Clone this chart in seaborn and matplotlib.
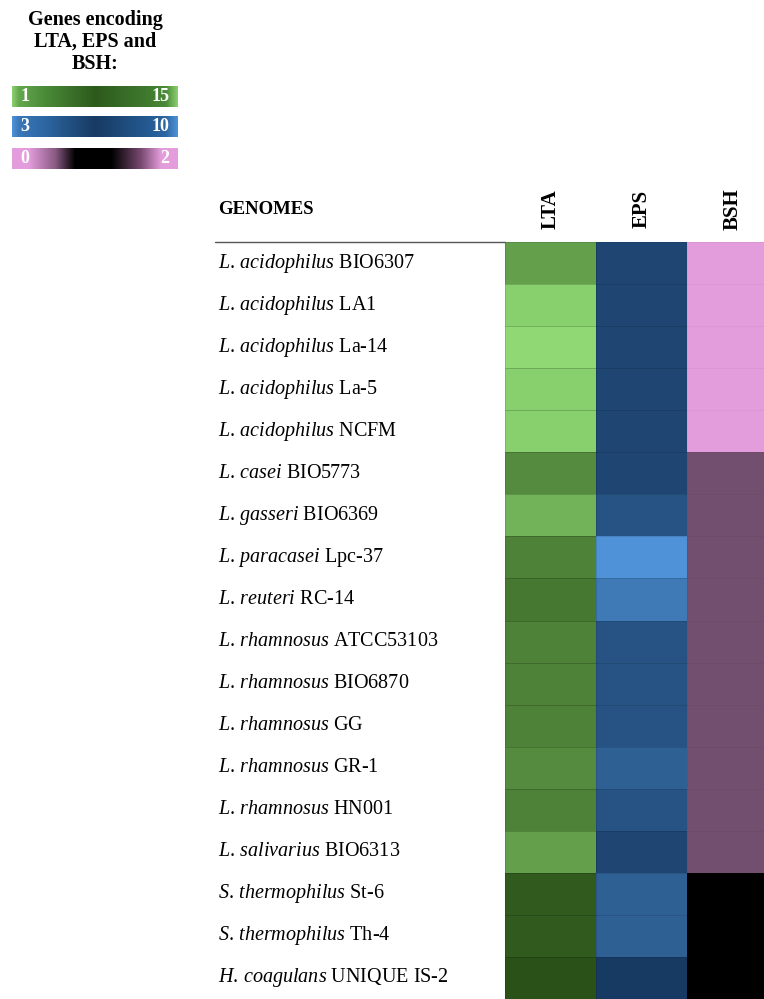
import numpy as np
import pandas as pd
import matplotlib
matplotlib.use("Agg")
import matplotlib.pyplot as plt
from matplotlib.colors import LinearSegmentedColormap
from matplotlib.lines import Line2D
import seaborn as sns

# Genome list: species (italic) and strain
species = ["L. acidophilus"] * 5 + [
    "L. casei", "L. gasseri", "L. paracasei", "L. reuteri",
    "L. rhamnosus", "L. rhamnosus", "L. rhamnosus", "L. rhamnosus", "L. rhamnosus",
    "L. salivarius", "S. thermophilus", "S. thermophilus", "H. coagulans",
]
strains = [
    "BIO6307", "LA1", "La-14", "La-5", "NCFM",
    "BIO5773", "BIO6369", "Lpc-37", "RC-14",
    "ATCC53103", "BIO6870", "GG", "GR-1", "HN001",
    "BIO6313", "St-6", "Th-4", "UNIQUE IS-2",
]

# Number of genes per genome
lta = [9, 14, 15, 14, 14, 7, 11, 6, 5, 6, 6, 6, 7, 6, 9, 2, 2, 1]
eps = [4, 4, 4, 4, 4, 4, 5, 10, 8, 5, 5, 5, 6, 5, 4, 6, 6, 3]
bsh = [2, 2, 2, 2, 2, 1, 1, 1, 1, 1, 1, 1, 1, 1, 1, 0, 0, 0]

columns = ["LTA", "EPS", "BSH"]
ranges = {"LTA": (1, 15), "EPS": (3, 10), "BSH": (0, 2)}

sns.set_theme(style="white")
plt.rcParams["font.family"] = ["Liberation Serif", "DejaVu Serif"]
plt.rcParams["text.color"] = "black"
plt.rcParams["xtick.color"] = "black"
plt.rcParams["ytick.color"] = "black"
plt.rcParams["mathtext.fontset"] = "custom"
plt.rcParams["mathtext.rm"] = "Liberation Serif"
plt.rcParams["mathtext.it"] = "Liberation Serif:italic"
plt.rcParams["mathtext.bf"] = "Liberation Serif:bold"

labels = []
for sp, st in zip(species, strains):
    genus, epithet = sp.split(" ")
    labels.append(r"$\mathit{" + genus + r"}\,\mathit{" + epithet + "}$ " + st)

df = pd.DataFrame({"LTA": lta, "EPS": eps, "BSH": bsh}, index=labels)

cell_cmaps = {
    "LTA": LinearSegmentedColormap.from_list("lta", ["#2a5218", "#8fd873"]),
    "EPS": LinearSegmentedColormap.from_list("eps", ["#173a62", "#4f92d8"]),
    "BSH": LinearSegmentedColormap.from_list("bsh", ["#000000", "#e39ddc"]),
}

W, H = 764, 999
fig = plt.figure(figsize=(W / 100, H / 100), dpi=100)

# Heatmap axes (the BSH column runs off the right edge)
ax_left, ax_top = 505, 242
col_w = 91
ax = fig.add_axes([ax_left / W, 0, 3 * col_w / W, (H - ax_top) / H])

for col in columns:
    mask = pd.DataFrame(True, index=df.index, columns=df.columns)
    mask[col] = False
    vmin, vmax = ranges[col]
    sns.heatmap(df, mask=mask, cmap=cell_cmaps[col], vmin=vmin, vmax=vmax,
                cbar=False, ax=ax, linewidths=0.6, linecolor=(0, 0, 0, 0.035))

ax.xaxis.tick_top()
ax.set_xticks(np.arange(3) + 0.5)
ax.set_xticklabels(columns, rotation=90, fontsize=15, fontweight="bold",
                   va="center", ha="center", color="black")
ax.tick_params(axis="x", length=0, pad=24)

ax.set_yticks(np.arange(len(labels)) + 0.5)
ax.set_yticklabels(labels, rotation=0, fontsize=14.5, ha="left", color="black")
pad_pts = (ax_left - 218) * 72 / 100
ax.tick_params(axis="y", length=0, pad=pad_pts)
ax.set_xlabel("")
ax.set_ylabel("")

# Header and rule
fig.text(218 / W, 1 - 210 / H, "GENOMES", fontsize=13.5, fontweight="bold",
         ha="left", va="center")
fig.add_artist(Line2D([215 / W, ax_left / W], [1 - 242 / H, 1 - 242 / H],
                      color="#555555", lw=1.0))

# Legend block
fig.text(95 / W, 1 - 42 / H, "Genes encoding\nLTA, EPS and\nBSH:", fontsize=14.5,
         fontweight="bold", ha="center", va="center", linespacing=1.12)

legend_specs = [
    (86, ["#8bd06e", "#64a84e", "#4a8a38", "#2d5a1c", "#3f7a2e", "#4a8a38", "#8bd06e"],
     [0.0, 0.04, 0.2, 0.5, 0.82, 0.93, 1.0], "1", "15"),
    (116, ["#4f92d8", "#3a78b8", "#2d66a2", "#173a62", "#245a92", "#2d66a2", "#4f92d8"],
     [0.0, 0.04, 0.2, 0.5, 0.82, 0.93, 1.0], "3", "10"),
    (148, ["#e39ddc", "#e39ddc", "#8a5a85", "#000000", "#000000", "#7a4a72", "#e39ddc", "#e39ddc"],
     [0.0, 0.1, 0.26, 0.38, 0.6, 0.78, 0.9, 1.0], "0", "2"),
]
for y0, cols, stops, lo, hi in legend_specs:
    cax = fig.add_axes([12 / W, 1 - (y0 + 21) / H, 166 / W, 21 / H])
    cm = LinearSegmentedColormap.from_list("leg", list(zip(stops, cols)))
    cax.imshow(np.linspace(0, 1, 256)[None, :], cmap=cm, aspect="auto",
               extent=[0, 1, 0, 1])
    cax.set_axis_off()
    cax.text(0.05, 0.5, lo, color="white", fontsize=13, fontweight="bold",
             ha="left", va="center", transform=cax.transAxes)
    cax.text(0.95, 0.5, hi, color="white", fontsize=13, fontweight="bold",
             ha="right", va="center", transform=cax.transAxes)

fig.savefig("out.png", dpi=100)
